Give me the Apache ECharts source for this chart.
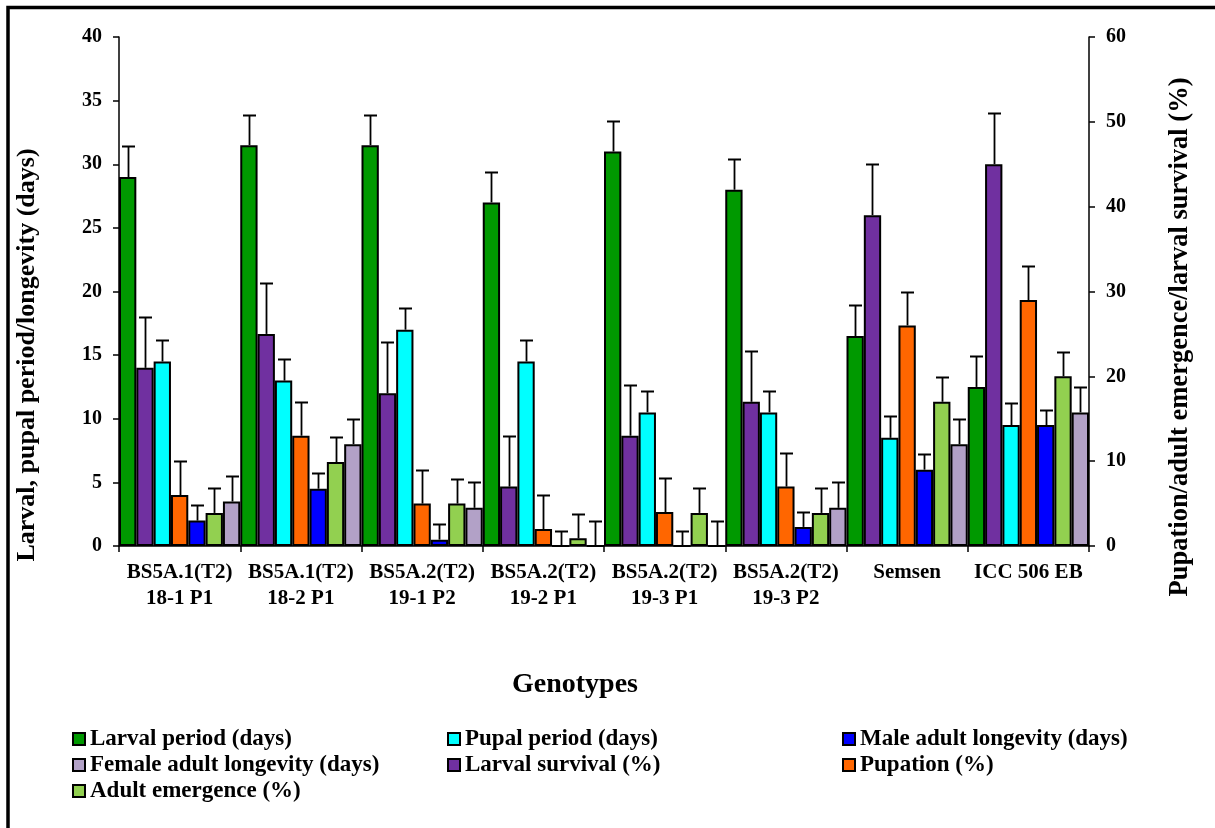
<!DOCTYPE html>
<html>
<head>
<meta charset="utf-8">
<script src="https://cdn.jsdelivr.net/npm/echarts@6/dist/echarts.min.js"></script>
<style>
html,body{margin:0;padding:0;background:#fff;}
#chart{width:1215px;height:828px;}
</style>
</head>
<body>
<div id="chart"></div>
<script>
// ---- Data ----
const categories = ['BS5A.1(T2)\n18-1 P1', 'BS5A.1(T2)\n18-2 P1', 'BS5A.2(T2)\n19-1 P2', 'BS5A.2(T2)\n19-2 P1',
                    'BS5A.2(T2)\n19-3 P1', 'BS5A.2(T2)\n19-3 P2', 'Semsen', 'ICC 506 EB'];
const leftTicks = [0, 5, 10, 15, 20, 25, 30, 35, 40];
const rightTicks = [0, 10, 20, 30, 40, 50, 60];

// left axis (days)
const larvalPeriod = [29, 31.5, 31.5, 27, 31, 28, 16.5, 12.5];
const larvalPeriodErr = [2.4, 2.4, 2.4, 2.4, 2.4, 2.4, 2.4, 2.4];
const pupalPeriod = [14.5, 13, 17, 14.5, 10.5, 10.5, 8.5, 9.5];
const pupalPeriodErr = [1.7, 1.7, 1.7, 1.7, 1.7, 1.7, 1.7, 1.7];
const maleLongevity = [2, 4.5, 0.5, 0, 0, 1.5, 6, 9.5];
const maleLongevityErr = [1.2, 1.2, 1.2, 1.15, 1.15, 1.2, 1.2, 1.2];
const femaleLongevity = [3.5, 8, 3, 0, 0, 3, 8, 10.5];
const femaleLongevityErr = [2, 2, 2, 2, 2, 2, 2, 2];

// right axis (%)
const larvalSurvival = [21, 25, 18, 7, 13, 17, 39, 45];
const larvalSurvivalErr = [6, 6, 6, 6, 6, 6, 6, 6];
const pupation = [6, 13, 5, 2, 4, 7, 26, 29];
const pupationErr = [4, 4, 4, 4, 4, 4, 4, 4];
const adultEmergence = [3.9, 9.9, 5, 0.9, 3.9, 3.9, 17, 20];
const adultEmergenceErr = [2.9, 2.9, 2.9, 2.9, 2.9, 2.9, 2.9, 2.9];

// ---- Series definitions (order of bars within each group) ----
const FONT = 'Liberation Serif, Times New Roman, serif';
const defs = [
  {name: 'Larval period (days)', data: larvalPeriod, err: larvalPeriodErr, axis: 0, color: '#009900'},
  {name: 'Larval survival (%)', data: larvalSurvival, err: larvalSurvivalErr, axis: 1, color: '#7030A0'},
  {name: 'Pupal period (days)', data: pupalPeriod, err: pupalPeriodErr, axis: 0, color: '#00FFFF'},
  {name: 'Pupation (%)', data: pupation, err: pupationErr, axis: 1, color: '#FF6600'},
  {name: 'Male adult longevity (days)', data: maleLongevity, err: maleLongevityErr, axis: 0, color: '#0000FF'},
  {name: 'Adult emergence (%)', data: adultEmergence, err: adultEmergenceErr, axis: 1, color: '#92D050'},
  {name: 'Female adult longevity (days)', data: femaleLongevity, err: femaleLongevityErr, axis: 0, color: '#B2A1C7'}
];
const N = defs.length;

function makeRender(k) {
  return function (params, api) {
    const c = api.value(0), v = api.value(1), e = api.value(2);
    const p0 = api.coord([c, v]);
    const p1 = api.coord([c, v + e]);
    const bw = api.size([1, 0])[0];
    const x = Math.round(p0[0] - bw / 2 + (k + 0.5) * bw / N) + 0.5;
    const yTop = Math.round(p1[1]) + 0.5;
    return {
      type: 'group',
      children: [
        {type: 'line', shape: {x1: x, y1: p0[1], x2: x, y2: yTop}, style: {stroke: '#000', lineWidth: 1.8}},
        {type: 'line', shape: {x1: x - 6.5, y1: yTop, x2: x + 6.5, y2: yTop}, style: {stroke: '#000', lineWidth: 2}}
      ]
    };
  };
}

const series = [];
defs.forEach(function (d) {
  series.push({
    name: d.name, type: 'bar', yAxisIndex: d.axis, data: d.data,
    barGap: '0%', barCategoryGap: '0%',
    itemStyle: {color: d.color, borderColor: '#000', borderWidth: 2},
    emphasis: {disabled: true}, z: 2
  });
});
defs.forEach(function (d, k) {
  series.push({
    name: 'err' + k, type: 'custom', yAxisIndex: d.axis,
    data: d.data.map(function (v, i) { return [i, v, d.err[i]]; }),
    encode: {x: 0, y: 1},
    renderItem: makeRender(k), z: 5, silent: true
  });
});

const legendText = {fontFamily: FONT, fontWeight: 'bold', fontSize: 23, color: '#000', lineHeight: 26};
function legendCol(left, names) {
  return {
    show: true, orient: 'vertical', left: left, top: 721, itemWidth: 12, itemHeight: 12, itemGap: 0,
    selectedMode: false, icon: 'rect',
    data: names,
    textStyle: legendText,
    itemStyle: {borderColor: '#000', borderWidth: 2}
  };
}

const chart = echarts.init(document.getElementById('chart'), null, {renderer: 'canvas'});
chart.setOption({
  animation: false,
  backgroundColor: '#fff',
  grid: {left: 119, right: 126, top: 37, bottom: 282, containLabel: false},
  xAxis: {
    type: 'category', data: categories,
    axisLine: {show: true, lineStyle: {color: '#000', width: 1.5}},
    axisTick: {show: true, length: 6, lineStyle: {color: '#000', width: 1.5}},
    axisLabel: {fontFamily: FONT, fontWeight: 'bold', fontSize: 21, color: '#000', lineHeight: 26, margin: 14, interval: 0}
  },
  yAxis: [
    {
      type: 'value', min: leftTicks[0], max: leftTicks[leftTicks.length - 1], interval: 5, position: 'left',
      splitLine: {show: false},
      axisLine: {show: true, lineStyle: {color: '#000', width: 1.5}},
      axisTick: {show: true, length: 6, lineStyle: {color: '#000', width: 1.5}},
      axisLabel: {fontFamily: FONT, fontWeight: 'bold', fontSize: 20, color: '#000', margin: 17}
    },
    {
      type: 'value', min: rightTicks[0], max: rightTicks[rightTicks.length - 1], interval: 10, position: 'right',
      splitLine: {show: false},
      axisLine: {show: true, lineStyle: {color: '#000', width: 1.5}},
      axisTick: {show: true, length: 6, lineStyle: {color: '#000', width: 1.5}},
      axisLabel: {fontFamily: FONT, fontWeight: 'bold', fontSize: 20, color: '#000', margin: 17}
    }
  ],
  legend: [
    legendCol(67, ['Larval period (days)', 'Female adult longevity (days)', 'Adult emergence (%)']),
    legendCol(442, ['Pupal period (days)', 'Larval survival (%)']),
    legendCol(837, ['Male adult longevity (days)', 'Pupation (%)'])
  ],
  graphic: [
    {type: 'rect', shape: {x: 8, y: 7.5, width: 1230, height: 840}, style: {fill: 'none', stroke: '#000', lineWidth: 3.5}, silent: true},
    {type: 'text', x: 27, y: 355, rotation: Math.PI / 2,
     style: {text: 'Larval, pupal period/longevity (days)', fontFamily: FONT, fontWeight: 'bold', fontSize: 26, fill: '#000', align: 'center', verticalAlign: 'middle'}},
    {type: 'text', x: 1180, y: 337, rotation: Math.PI / 2,
     style: {text: 'Pupation/adult emergence/larval survival (%)', fontFamily: FONT, fontWeight: 'bold', fontSize: 26.5, fill: '#000', align: 'center', verticalAlign: 'middle'}},
    {type: 'text', x: 575, y: 685,
     style: {text: 'Genotypes', fontFamily: FONT, fontWeight: 'bold', fontSize: 28, fill: '#000', align: 'center', verticalAlign: 'middle'}}
  ],
  series: series
});
</script>
</body>
</html>
